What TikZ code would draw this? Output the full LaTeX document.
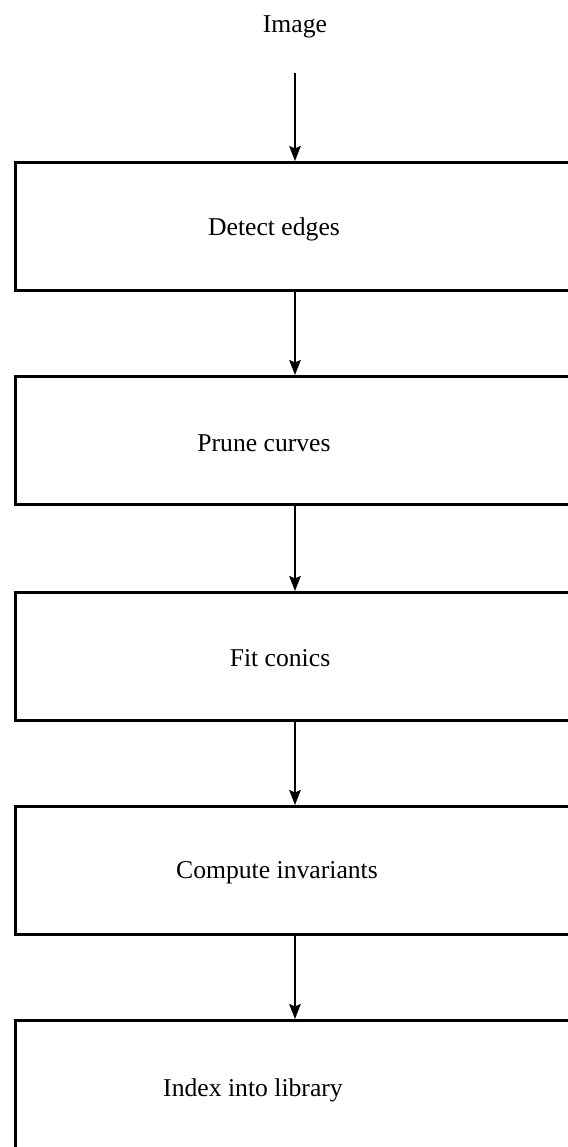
\documentclass[tikz,border=0pt]{standalone}
\usepackage{fontspec}
\setmainfont{Liberation Serif}
\usetikzlibrary{arrows.meta}

\begin{document}
\begin{tikzpicture}[x=0.02cm, y=-0.02cm,
  stagebox/.style={rectangle, draw, line width=1.6pt, anchor=north west,
    minimum width=12.2cm, minimum height=2.56cm, inner sep=0pt},
  stagetext/.style={font=\fontsize{14.6}{17}\selectfont, inner sep=1pt},
  flow/.style={line width=1.1pt, -{Stealth[length=3mm, width=2.3mm, inset=0.5mm]}}]
  \useasboundingbox (0,0) rectangle (568,1147);
  \node[stagetext] (img) at (295,27) {Image};
  \coordinate (start) at (295,73);
  \node[stagebox] (detect)  at (14,161) {};
  \node[stagebox] (prune)   at (14,375) {};
  \node[stagebox] (fit)     at (14,591) {};
  \node[stagebox] (inv)     at (14,805) {};
  \node[stagebox, minimum height=3cm] (index) at (14,1019) {};
  \node[stagetext] (tdetect) at (274,229)  {Detect edges};
  \node[stagetext] (tprune)  at (264,443)  {Prune curves};
  \node[stagetext] (tfit)    at (280,658)  {Fit conics};
  \node[stagetext] (tinv)    at (277,873)  {Compute invariants};
  \node[stagetext] (tindex)  at (253,1090) {Index into library};
  \draw[flow] (start) -- (start |- detect.north);
  \draw[flow] (detect.south -| start) -- (prune.north -| start);
  \draw[flow] (prune.south -| start) -- (fit.north -| start);
  \draw[flow] (fit.south -| start) -- (inv.north -| start);
  \draw[flow] (inv.south -| start) -- (index.north -| start);
\end{tikzpicture}
\end{document}
